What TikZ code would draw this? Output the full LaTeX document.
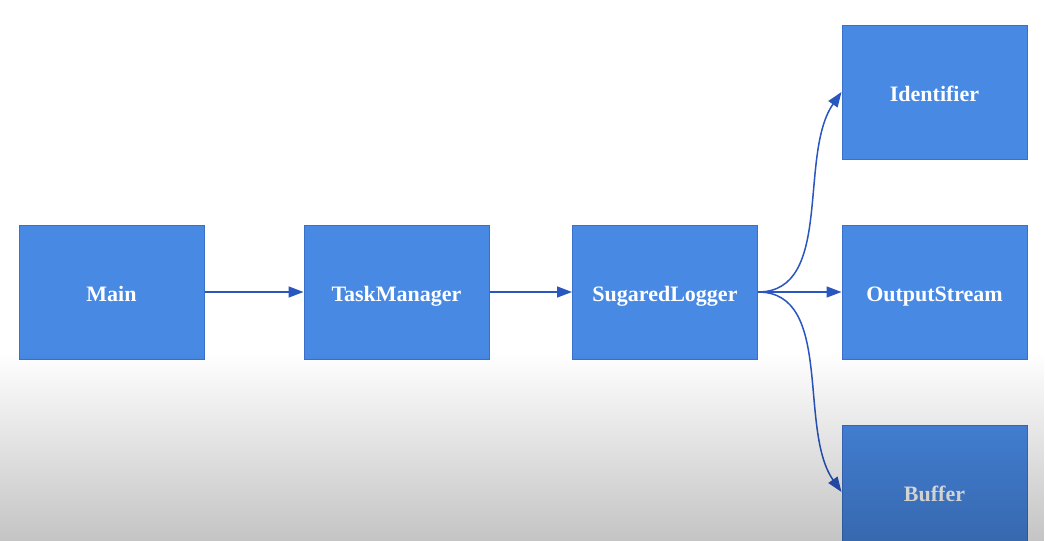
\documentclass[tikz,border=0pt]{standalone}
\usepackage{fontspec}
\setmainfont{Liberation Serif}
\usetikzlibrary{arrows.meta,fadings}
\definecolor{boxfill}{RGB}{72,137,228}
\definecolor{boxline}{RGB}{58,112,200}
\definecolor{arr}{RGB}{42,86,192}
\begin{document}
\begin{tikzpicture}[x=1pt,y=-1pt,
 box/.style={draw=boxline, line width=1pt, fill=boxfill, minimum width=185pt, minimum height=134pt, inner sep=0pt, text height=22pt, text depth=4pt, text=white, font=\fontsize{22}{25}\selectfont\bfseries},
 conn/.style={draw=arr, line width=1.5pt, -{Triangle[length=15pt,width=11pt]}}]
\useasboundingbox (0,0) rectangle (1045,541);
\clip (0,0) rectangle (1045,541);
\fill[white] (0,0) rectangle (1045,541);
\node[box] (main) at (111.5,292) {Main};
\node[box] (tm) at (396.5,292) {TaskManager};
\node[box] (sl) at (665,292) {SugaredLogger};
\node[box] (id) at (934.5,92) {Identifier};
\node[box] (os) at (934.5,292) {OutputStream};
\node[box] (buf) at (934.5,492) {Buffer};
\draw[conn] (main) -- (tm);
\draw[conn] (tm) -- (sl);
\draw[conn] (sl.east) -- (os.west);
\draw[conn] (sl.east) to[out=0,in=-125,looseness=0.9] (id.west);
\draw[conn] (sl.east) to[out=0,in=125,looseness=0.9] (buf.west);
\fill[black, opacity=0.23, path fading=north] (0,352) rectangle (1045,541);
\end{tikzpicture}
\end{document}
